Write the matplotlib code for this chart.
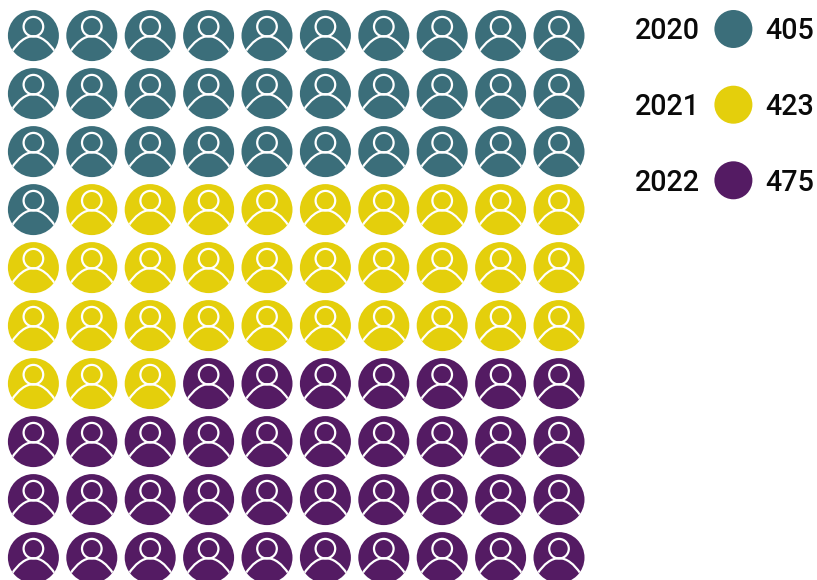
import matplotlib
matplotlib.use("Agg")
import matplotlib.pyplot as plt
from matplotlib.patches import Circle, PathPatch
from matplotlib.path import Path
from matplotlib.transforms import Affine2D

plt.rcParams['font.family'] = ['Roboto', 'DejaVu Sans']

years = ["2020", "2021", "2022"]
values = [405, 423, 475]
icon_counts = [31, 32, 37]
colors = ["#3B6E7A", "#E4CF0C", "#541B63"]

W, H = 817, 580
fig = plt.figure(figsize=(W / 100, H / 100), dpi=100, facecolor="white")
ax = fig.add_axes([0, 0, 1, 1])
ax.set_xlim(0, W)
ax.set_ylim(H, 0)
ax.axis("off")

X0, DX, Y0, DY, R = 33.4, 58.4, 35.6, 58.0, 25.5

shoulder = Path(
    [(-21.5, 16), (-15, 6.5), (-8, 0.6), (0, 0.6), (8, 0.6), (15, 6.5), (21.5, 16)],
    [Path.MOVETO, Path.CURVE4, Path.CURVE4, Path.CURVE4, Path.CURVE4, Path.CURVE4, Path.CURVE4],
)


def draw_icon(cx, cy, color):
    disc = Circle((cx, cy), R, facecolor=color, edgecolor="none", zorder=1)
    ax.add_patch(disc)
    ax.add_patch(Circle((cx, cy - 8.9), 9.8, facecolor="none", edgecolor="white",
                        linewidth=1.6, zorder=2))
    body = PathPatch(shoulder.transformed(Affine2D().translate(cx, cy)),
                     facecolor="none", edgecolor="white", linewidth=1.6, zorder=2)
    ax.add_patch(body)
    body.set_clip_path(disc)


sequence = [c for c, n in zip(colors, icon_counts) for _ in range(n)]
for i, color in enumerate(sequence):
    row, col = divmod(i, 10)
    draw_icon(X0 + col * DX, Y0 + row * DY, color)

legend_y = [29.0, 104.7, 180.3]
for y, year, value, color in zip(legend_y, years, values, colors):
    ax.add_patch(Circle((733.4, y), 19, facecolor=color, edgecolor="none"))
    ax.text(634.5, y + 10.3, year, fontsize=20.6, fontweight=500, color="#0a0a0a", va="baseline", ha="left")
    ax.text(765.5, y + 10.3, str(value), fontsize=20.6, fontweight=500, color="#0a0a0a", va="baseline", ha="left")

fig.savefig("out.png", dpi=100, facecolor="white")
